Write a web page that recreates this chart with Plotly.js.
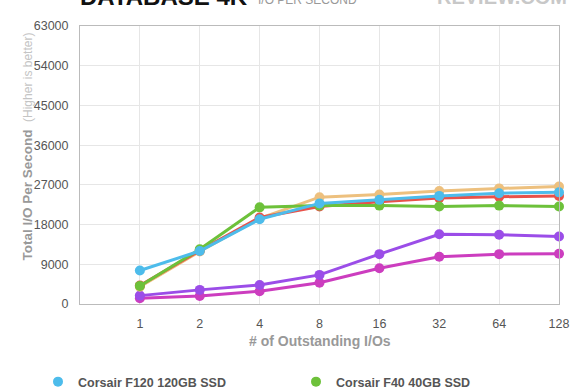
<!DOCTYPE html>
<html>
<head>
<meta charset="utf-8">
<script src="https://cdn.plot.ly/plotly-3.0.1.min.js"></script>
<style>
html,body{margin:0;padding:0;background:#fff;}
#chart{width:580px;height:390px;}
</style>
</head>
<body>
<div id="chart"></div>
<script>
const outstandingIOs = ['1', '2', '4', '8', '16', '32', '64', '128'];
const f120Values   = [7600, 12000, 19200, 22800, 23600, 24500, 25100, 25300];
const f40Values    = [4100, 12400, 21900, 22300, 22300, 22100, 22300, 22100];
const redValues    = [4200, 12100, 19600, 22100, 23200, 24000, 24300, 24500];
const orangeValues = [3900, 11900, 19400, 24200, 24800, 25600, 26200, 26600];
const purpleValues = [1900, 3200, 4300, 6600, 11300, 15800, 15700, 15300];
const magentaValues= [1300, 1800, 2900, 4800, 8100, 10700, 11300, 11400];
const yTicks = [0, 9000, 18000, 27000, 36000, 45000, 54000, 63000];

const xIdx = outstandingIOs.map((_, i) => i);

function series(name, vals, color) {
  return {
    x: xIdx, y: vals, name: name, type: 'scatter', mode: 'lines+markers',
    line: {color: color, width: 3},
    marker: {color: color, size: 10},
    showlegend: false, cliponaxis: false
  };
}
function legendEntry(name, color, legendId) {
  return {
    x: [null], y: [null], name: name, type: 'scatter', mode: 'markers',
    marker: {color: color, size: 10}, legend: legendId, showlegend: true
  };
}

const data = [
  series('Drive 6', magentaValues, '#CC3DBF'),
  series('Drive 5', purpleValues, '#9B4DE8'),
  series('Drive 4', orangeValues, '#EDC07E'),
  series('Drive 3', redValues, '#E8524A'),
  series('Corsair F40 40GB SSD', f40Values, '#6DC13A'),
  series('Corsair F120 120GB SSD', f120Values, '#4DBCEB'),
  legendEntry('Corsair F120 120GB SSD', '#4DBCEB', 'legend'),
  legendEntry('Corsair F40 40GB SSD', '#6DC13A', 'legend2')
];

const FONT = 'Liberation Sans, Arial, sans-serif';
const tickFont = {family: FONT, size: 12.5, color: '#555'};
const legendFont = {family: FONT, size: 12.5, color: '#555', weight: 'bold'};

// pixel helpers (plot area: x 80..559, y 26..304)
const py = v => (304 - v) / 278;
const px = v => (v - 80) / 479;

const layout = {
  width: 580, height: 390,
  margin: {l: 80, r: 21, t: 26, b: 86},
  paper_bgcolor: '#fff', plot_bgcolor: '#fff',
  xaxis: {
    range: [-1, 7], tickmode: 'array', tickvals: xIdx, ticktext: outstandingIOs,
    showgrid: true, gridcolor: '#e6e6e6', gridwidth: 1,
    zeroline: false, showline: true, linecolor: '#bbb', mirror: true,
    ticks: '', tickfont: tickFont, ticklabelstandoff: 8, fixedrange: true
  },
  yaxis: {
    range: [0, 63000], tickmode: 'array', tickvals: yTicks,
    ticktext: yTicks.map(String),
    showgrid: true, gridcolor: '#e6e6e6', gridwidth: 1,
    zeroline: false, showline: true, linecolor: '#bbb', mirror: true,
    ticks: '', tickfont: tickFont, ticklabelstandoff: 8, fixedrange: true
  },
  showlegend: true,
  legend: {
    orientation: 'h', xref: 'container', yref: 'container',
    x: 38 / 580, y: 8 / 390, xanchor: 'left', yanchor: 'middle',
    font: legendFont, bgcolor: 'rgba(0,0,0,0)'
  },
  legend2: {
    orientation: 'h', xref: 'container', yref: 'container',
    x: 296 / 580, y: 8 / 390, xanchor: 'left', yanchor: 'middle',
    font: legendFont, bgcolor: 'rgba(0,0,0,0)'
  },
  annotations: [
    {
      text: '<b>DATABASE 4K</b>', xref: 'paper', yref: 'paper',
      x: px(78), y: py(12), xanchor: 'left', yanchor: 'bottom', showarrow: false,
      font: {family: FONT, size: 24, color: '#111'}
    },
    {
      text: 'I/O PER SECOND', xref: 'paper', yref: 'paper',
      x: px(256), y: py(9), xanchor: 'left', yanchor: 'bottom', showarrow: false,
      font: {family: FONT, size: 12, color: '#999'}
    },
    {
      text: '<b>REVIEW.COM</b>', xref: 'paper', yref: 'paper',
      x: px(569), y: py(10), xanchor: 'right', yanchor: 'bottom', showarrow: false,
      font: {family: FONT, size: 20, color: '#c8c8c8'}
    },
    {
      text: '<b># of Outstanding I/Os</b>', xref: 'paper', yref: 'paper',
      x: 0.5, y: py(341), xanchor: 'center', yanchor: 'middle', showarrow: false,
      font: {family: FONT, size: 14, color: '#999'}
    },
    {
      text: '<b>Total I/O Per Second</b>  <span style="font-size:12px;color:#c4c4c4">(Higher is better)</span>',
      xref: 'paper', yref: 'paper', textangle: -90,
      x: px(27), y: py(146.5), xanchor: 'center', yanchor: 'middle', showarrow: false,
      font: {family: FONT, size: 13.5, color: '#999'}
    }
  ]
};

Plotly.newPlot('chart', data, layout, {staticPlot: true, displayModeBar: false});
</script>
</body>
</html>
